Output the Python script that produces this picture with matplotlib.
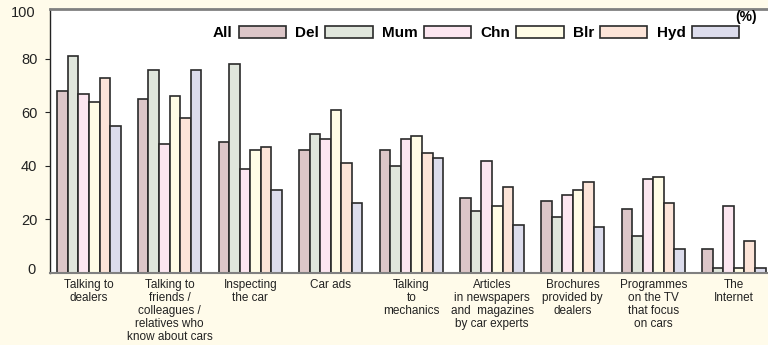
import matplotlib
matplotlib.use("Agg")
import matplotlib.pyplot as plt
import numpy as np

categories = [
    "Talking to\ndealers",
    "Talking to\nfriends /\ncolleagues /\nrelatives who\nknow about cars",
    "Inspecting\nthe car",
    "Car ads",
    "Talking\nto\nmechanics",
    "Articles\nin newspapers\nand  magazines\nby car experts",
    "Brochures\nprovided by\ndealers",
    "Programmes\non the TV\nthat focus\non cars",
    "The\nInternet",
]
series_names = ["All", "Del", "Mum", "Chn", "Blr", "Hyd"]
all_vals = [68, 65, 49, 46, 46, 28, 27, 24, 9]
del_vals = [81, 76, 78, 52, 40, 23, 21, 14, 2]
mum_vals = [67, 48, 39, 50, 50, 42, 29, 35, 25]
chn_vals = [64, 66, 46, 61, 51, 25, 31, 36, 2]
blr_vals = [73, 58, 47, 41, 45, 32, 34, 26, 12]
hyd_vals = [55, 76, 31, 26, 43, 18, 17, 9, 2]
series_vals = [all_vals, del_vals, mum_vals, chn_vals, blr_vals, hyd_vals]
colors = ["#dcc6c8", "#e0e6dc", "#fce6f0", "#fffce6", "#fce4d8", "#dcdcec"]

bg = "#fffbea"
sans = ["Liberation Sans", "DejaVu Sans"]
fig = plt.figure(figsize=(7.68, 3.45), dpi=100, facecolor=bg)
ax = fig.add_axes([50 / 768, 1 - 273 / 345, 1 - 50 / 768, 264 / 345])
ax.set_facecolor("white")

x = np.arange(len(categories))
width = 0.131
for i, (name, vals, c) in enumerate(zip(series_names, series_vals, colors)):
    ax.bar(x + (i - 2.5) * width, vals, width, color=c, edgecolor="#2a2a2a",
           linewidth=1.2, label=name, zorder=2)

ax.set_xlim(-0.484, 8.424)
ax.set_ylim(0, 98.6)

ax.spines["right"].set_visible(False)
ax.spines["top"].set_color("#808080")
ax.spines["top"].set_linewidth(2)
ax.spines["bottom"].set_color("#808080")
ax.spines["bottom"].set_linewidth(1.5)
ax.spines["left"].set_color("#222222")
ax.spines["left"].set_linewidth(1)

ax.set_yticks([20, 40, 60, 80])
ax.set_yticklabels(["20", "40", "60", "80"])
ax.tick_params(axis="y", direction="out", length=3.6, width=0.8, pad=5.5,
               labelsize=10.5, colors="#222222")
for lab in ax.get_yticklabels():
    lab.set_family(sans)
ax.text(-0.0195, 0.01, "0", transform=ax.transAxes, ha="right", va="center",
        fontsize=10.5, family=sans, color="#222222")
ax.text(-0.0195, 0.985, "100", transform=ax.transAxes, ha="right", va="center",
        fontsize=10.5, family=sans, color="#222222")

ax.set_xticks(x)
ax.set_xticklabels(categories, fontsize=8.5, linespacing=1.12, family=sans)
ax.tick_params(axis="x", length=0, pad=4, colors="#222222")

leg = ax.legend(ncol=6, markerfirst=False, frameon=False,
                loc="center right", bbox_to_anchor=(739 / 768, 1 - 33 / 345),
                bbox_transform=fig.transFigure, borderpad=0, borderaxespad=0,
                handlelength=3.1, handleheight=0.85, handletextpad=0.4,
                columnspacing=0.6,
                prop={"family": sans, "weight": "bold", "size": 11})

fig.text(746 / 768, 1 - 17 / 345, "(%)", ha="center", va="center",
         fontsize=10, fontweight="bold", family=sans)

fig.savefig("out.png", dpi=100, facecolor=bg)
